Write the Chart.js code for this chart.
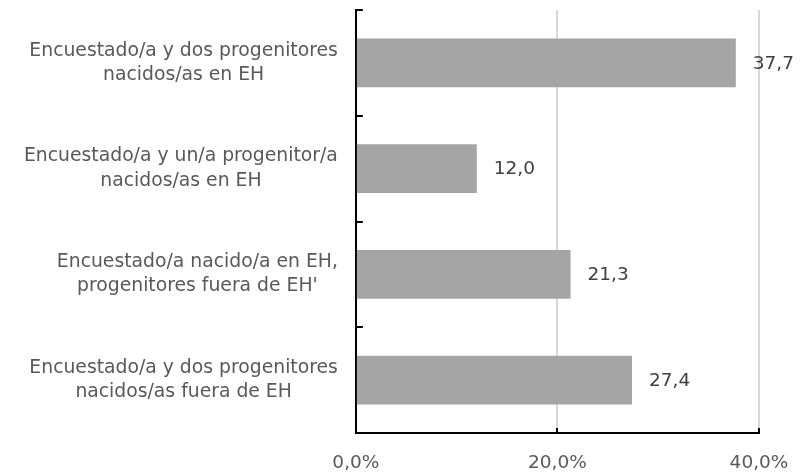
<!DOCTYPE html>
<html>
<head>
<meta charset="utf-8">
<script src="https://cdn.jsdelivr.net/npm/chart.js@4.4.1/dist/chart.umd.min.js"></script>
<style>
  html, body { margin: 0; padding: 0; background: #fff; }
  #wrap { width: 810px; height: 474px; }
</style>
</head>
<body>
<div id="wrap"><canvas id="bar-chart" width="810" height="474"></canvas></div>
<script>
// datos del grafico
let categorias = [
    ['Encuestado/a y dos progenitores', 'nacidos/as en EH'],
    ['Encuestado/a y un/a progenitor/a', 'nacidos/as en EH'],
    ['Encuestado/a nacido/a en EH,', "progenitores fuera de EH'"],
    ['Encuestado/a y dos progenitores', 'nacidos/as fuera de EH']
]
let valores = [37.7, 12.0, 21.3, 27.4]
let ticksX = [0, 20, 40]

let fuenteCat = 18.8
let altoLinea = 24.4

function coma(v) {
    return v.toFixed(1).replace('.', ',')
}

// etiquetas de valor a la derecha de cada barra
let etiquetas = {
    id: 'etiquetas',
    afterDatasetsDraw(chart) {
        let ctx = chart.ctx
        let meta = chart.getDatasetMeta(0)
        ctx.save()
        ctx.font = '18.5px "DejaVu Sans"'
        ctx.fillStyle = '#404040'
        ctx.textAlign = 'left'
        ctx.textBaseline = 'middle'
        meta.data.forEach(function(bar, i) {
            ctx.fillText(coma(valores[i]), bar.x + 17, bar.y + 1)
        })
        ctx.restore()
    }
}

// categorias: bloque alineado a la derecha, lineas centradas
let rotulos = {
    id: 'rotulos',
    afterDraw(chart) {
        let ctx = chart.ctx
        let y = chart.scales.y
        ctx.save()
        ctx.font = fuenteCat + 'px "DejaVu Sans"'
        ctx.fillStyle = '#595959'
        ctx.textAlign = 'center'
        ctx.textBaseline = 'middle'
        categorias.forEach(function(lineas, i) {
            let ancho = Math.max.apply(null, lineas.map(function(l) { return ctx.measureText(l).width }))
            let cx = y.right - 18 - ancho / 2
            let cy = y.getPixelForValue(i) - (lineas.length - 1) * altoLinea / 2
            lineas.forEach(function(l, j) {
                ctx.fillText(l, cx, cy + j * altoLinea)
            })
        })
        ctx.restore()
    }
}

// marcas de los ejes hacia dentro
let marcas = {
    id: 'marcas',
    afterDraw(chart) {
        let ctx = chart.ctx
        let x = chart.scales.x
        let y = chart.scales.y
        ctx.save()
        ctx.strokeStyle = '#000'
        ctx.lineWidth = 2
        ctx.beginPath()
        for (let i = 0; i <= categorias.length; i++) {
            let py = Math.round(y.getPixelForValue(i - 0.5))
            ctx.moveTo(y.right, py)
            ctx.lineTo(y.right + 7, py)
        }
        ticksX.forEach(function(t) {
            let px = Math.round(x.getPixelForValue(t))
            ctx.moveTo(px, x.top)
            ctx.lineTo(px, x.top - 5)
        })
        ctx.stroke()
        ctx.restore()
    }
}

new Chart(document.getElementById('bar-chart'), {
    type: 'bar',
    data: {
        labels: categorias,
        datasets: [{
            data: valores,
            backgroundColor: '#a5a5a5',
            categoryPercentage: 1,
            barPercentage: 0.46
        }]
    },
    options: {
        indexAxis: 'y',
        responsive: false,
        animation: false,
        layout: { padding: { left: 6, right: 51, top: 10, bottom: 0 } },
        plugins: {
            legend: { display: false },
            tooltip: { enabled: false }
        },
        scales: {
            x: {
                min: 0,
                max: 40,
                afterBuildTicks: function(scale) {
                    scale.ticks = ticksX.map(function(v) { return { value: v } })
                },
                afterFit: function(scale) {
                    scale.height = 41
                },
                grid: { color: '#d9d9d9', lineWidth: 2, drawTicks: false },
                border: { color: '#000', width: 2 },
                ticks: {
                    padding: 19,
                    color: '#595959',
                    font: { family: 'DejaVu Sans', size: 18.5 },
                    callback: function(v) { return coma(v) + '%' }
                }
            },
            y: {
                afterFit: function(scale) {
                    scale.paddingTop = 0
                    scale.paddingBottom = 0
                },
                grid: { display: false, drawTicks: false },
                border: { color: '#000', width: 2 },
                ticks: {
                    // el ancho del eje sale de aqui; el texto lo pinta 'rotulos'
                    padding: 18,
                    color: 'rgba(0,0,0,0)',
                    font: { family: 'DejaVu Sans', size: fuenteCat, lineHeight: 1.3 }
                }
            }
        }
    },
    plugins: [etiquetas, rotulos, marcas]
});
</script>
</body>
</html>
